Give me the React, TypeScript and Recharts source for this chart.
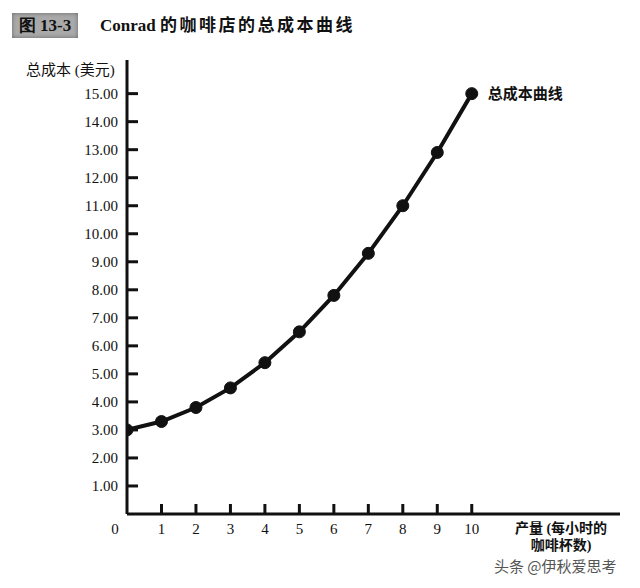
import { LineChart, Line, XAxis, YAxis, LabelList } from 'recharts'

const quantity = [0, 1, 2, 3, 4, 5, 6, 7, 8, 9, 10]
const totalCost = [3.0, 3.3, 3.8, 4.5, 5.4, 6.5, 7.8, 9.3, 11.0, 12.9, 15.0]
const yTicks = [1, 2, 3, 4, 5, 6, 7, 8, 9, 10, 11, 12, 13, 14, 15]
const xTicks = [0, 1, 2, 3, 4, 5, 6, 7, 8, 9, 10]
const seriesName = '总成本曲线'

const data = quantity.map((q, i) => ({ q, cost: totalCost[i] }))

const serif = '"Liberation Serif", "DejaVu Serif", serif'
const cjk = '"Liberation Serif", "Noto Sans CJK SC", sans-serif'

// labels outside the axes, tick marks pointing into the plot
function XTick(props: any) {
  const { x, y, payload } = props
  const px = Number(x)
  const py = Number(y)
  const dx = payload.value === 0 ? -12 : 0
  return (
    <g>
      {payload.value !== 0 && (
        <path d={`M${px},${py - 8}L${px},${py - 18}`} stroke="#111" strokeWidth={3} />
      )}
      <text x={px + dx} y={py} dy={12} textAnchor="middle" fontFamily={serif} fontSize={15} fill="#111">
        {payload.value}
      </text>
    </g>
  )
}

function YTick(props: any) {
  const { x, y, payload } = props
  const px = Number(x)
  const py = Number(y)
  return (
    <g>
      <path d={`M${px + 9},${py}L${px + 20},${py}`} stroke="#111" strokeWidth={3} />
      <text x={px} y={py} dy={5} textAnchor="end" fontFamily={serif} fontSize={15} fill="#111">
        {Number(payload.value).toFixed(2)}
      </text>
    </g>
  )
}

function EndLabel(props: any) {
  const { x, y, index } = props
  if (index !== totalCost.length - 1) return null
  return (
    <text x={Number(x) + 16} y={Number(y)} dy={5} fontFamily={cjk} fontWeight={700} fontSize={15} fill="#111">
      {seriesName}
    </text>
  )
}

export default function App() {
  return (
    <div style={{ position: 'absolute', left: 0, top: 0, width: 640, height: 588, background: '#fff' }}>
      <div
        style={{
          position: 'absolute', left: 12, top: 13, width: 66, height: 25,
          background: '#a9a9a9', boxShadow: 'inset 0 0 4px #666',
          fontFamily: serif, fontWeight: 700, fontSize: 17, lineHeight: '25px',
          textAlign: 'center', color: '#111',
        }}
      >
        图 13-3
      </div>
      <div
        style={{
          position: 'absolute', left: 100, top: 14, fontFamily: cjk, fontWeight: 700,
          fontSize: 17, lineHeight: '24px', color: '#111', whiteSpace: 'nowrap',
        }}
      >
        Conrad <span style={{ letterSpacing: 2.5 }}>的咖啡店的总成本曲线</span>
      </div>
      <div
        style={{
          position: 'absolute', left: 26, top: 60, fontFamily: cjk, fontSize: 15,
          lineHeight: '20px', color: '#111', whiteSpace: 'nowrap',
        }}
      >
        总成本 (美元)
      </div>
      <div
        style={{
          position: 'absolute', left: 506, top: 520, width: 110, fontFamily: cjk, fontWeight: 700,
          fontSize: 14, lineHeight: '17px', color: '#111', textAlign: 'center',
        }}
      >
        产量 (每小时的<br />咖啡杯数)
      </div>
      <div
        style={{
          position: 'absolute', left: 494, top: 557, fontFamily: '"Noto Sans CJK SC", sans-serif',
          fontSize: 15, lineHeight: '18px', color: '#555', whiteSpace: 'nowrap',
        }}
      >
        头条 @伊秋爱思考
      </div>
      <LineChart width={640} height={588} data={data} margin={{ top: 60, right: 20, bottom: 0, left: 0 }}>
        <XAxis
          dataKey="q"
          type="number"
          domain={[0, 14.3]}
          ticks={xTicks}
          height={74}
          allowDataOverflow
          stroke="#111"
          strokeWidth={3}
          tickLine={false}
          tickSize={-8}
          tickMargin={16}
          tick={<XTick />}
        />
        <YAxis
          dataKey="cost"
          type="number"
          domain={[0, 16.2]}
          ticks={yTicks}
          width={127}
          allowDataOverflow
          stroke="#111"
          strokeWidth={3}
          tickLine={false}
          tickSize={-9}
          tickMargin={18}
          tick={<YTick />}
        />
        <Line
          dataKey="cost"
          stroke="#111"
          strokeWidth={4}
          dot={{ r: 6, fill: '#111', stroke: '#111', strokeWidth: 1 }}
          isAnimationActive={false}
        >
          <LabelList dataKey="cost" content={<EndLabel />} />
        </Line>
      </LineChart>
    </div>
  )
}
